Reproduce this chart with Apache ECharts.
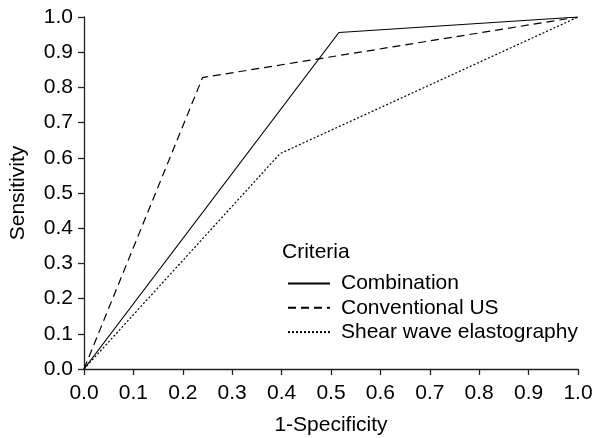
<!DOCTYPE html>
<html>
<head>
<meta charset="utf-8">
<script src="https://cdn.jsdelivr.net/npm/echarts@6/dist/echarts.min.js"></script>
<style>
  html, body { margin: 0; padding: 0; background: #fff; }
  #main { width: 594px; height: 438px; }
</style>
</head>
<body>
<div id="main"></div>
<script>
// ROC curves: [1-specificity, sensitivity]
var seriesNames = ['Combination', 'Conventional US', 'Shear wave elastography'];
var combination = [[0, 0], [0.516, 0.956], [1, 1]];
var conventionalUS = [[0, 0], [0.24, 0.828], [1, 1]];
var shearWave = [[0, 0], [0.397, 0.612], [1, 1]];
var lineTypes = ['solid', [8, 5], [2, 2]];

var font = '"Liberation Sans", Arial, sans-serif';
var chart = echarts.init(document.getElementById('main'));

function axisCommon() {
  return {
    type: 'value',
    min: 0,
    max: 1,
    interval: 0.1,
    nameLocation: 'middle',
    nameTextStyle: { fontSize: 21, color: '#000', fontFamily: font },
    axisLine: { show: true, lineStyle: { color: '#222', width: 1.3 } },
    axisTick: { show: true, inside: false, length: 6, lineStyle: { color: '#222', width: 1.3 } },
    axisLabel: {
      fontSize: 21, color: '#000', fontFamily: font,
      formatter: function (v) { return v.toFixed(1); }
    },
    splitLine: { show: false }
  };
}

var xAxis = axisCommon();
xAxis.name = '1-Specificity';
xAxis.nameGap = 46;
xAxis.axisLabel.margin = 14;

var yAxis = axisCommon();
yAxis.name = 'Sensitivity';
yAxis.nameGap = 55;
yAxis.axisLabel.margin = 11;

var datasets = [combination, conventionalUS, shearWave];

chart.setOption({
  animation: false,
  title: {
    text: 'Criteria',
    left: 282,
    top: 242,
    padding: 0,
    textStyle: { fontSize: 21, fontWeight: 'normal', color: '#000', fontFamily: font }
  },
  legend: {
    orient: 'vertical',
    left: 287,
    top: 273,
    padding: 0,
    itemWidth: 42,
    itemHeight: 14,
    itemGap: 3.3,
    itemStyle: { opacity: 0 },
    textStyle: { fontSize: 21, color: '#000', fontFamily: font, lineHeight: 20, padding: [0, 0, 0, 6] },
    data: seriesNames
  },
  grid: { left: 84, right: 16, top: 17, bottom: 69, containLabel: false, outerBoundsMode: 'none' },
  xAxis: xAxis,
  yAxis: yAxis,
  series: datasets.map(function (d, i) {
    return {
      name: seriesNames[i],
      type: 'line',
      data: d,
      symbol: 'none',
      lineStyle: { color: '#000', width: 1.2, type: lineTypes[i] },
      itemStyle: { color: '#000' }
    };
  })
});
</script>
</body>
</html>
